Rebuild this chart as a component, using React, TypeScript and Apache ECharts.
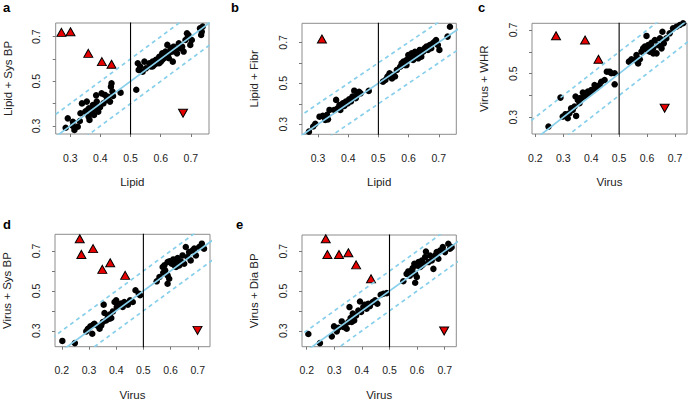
import React, { useEffect, useRef } from "react";
import * as echarts from "echarts";

// ---------- data ----------
const aPoints: number[][] = [
  [0.285, 0.292], [0.292, 0.334], [0.309, 0.3], [0.314, 0.282], [0.309, 0.319], [0.325, 0.297],
  [0.332, 0.322], [0.334, 0.357], [0.339, 0.401], [0.35, 0.364], [0.355, 0.409], [0.355, 0.369],
  [0.361, 0.342], [0.364, 0.327], [0.362, 0.379], [0.372, 0.361], [0.375, 0.394], [0.377, 0.375],
  [0.379, 0.349], [0.384, 0.387], [0.386, 0.437], [0.388, 0.409], [0.393, 0.364], [0.399, 0.384],
  [0.404, 0.446], [0.41, 0.401], [0.415, 0.439], [0.421, 0.416], [0.426, 0.431], [0.432, 0.409],
  [0.435, 0.476], [0.437, 0.491], [0.44, 0.454], [0.442, 0.434], [0.467, 0.449], [0.519, 0.462],
  [0.524, 0.581], [0.527, 0.551], [0.532, 0.566], [0.54, 0.543], [0.546, 0.588], [0.551, 0.558],
  [0.562, 0.581], [0.567, 0.566], [0.573, 0.588], [0.578, 0.573], [0.584, 0.596], [0.589, 0.581],
  [0.595, 0.61], [0.6, 0.588], [0.605, 0.625], [0.611, 0.603], [0.616, 0.633], [0.622, 0.663],
  [0.622, 0.61], [0.627, 0.625], [0.633, 0.648], [0.638, 0.633], [0.64, 0.588], [0.643, 0.655],
  [0.649, 0.64], [0.654, 0.625], [0.66, 0.67], [0.665, 0.648], [0.671, 0.655], [0.676, 0.633],
  [0.682, 0.685], [0.687, 0.715], [0.69, 0.7], [0.692, 0.707], [0.698, 0.663], [0.703, 0.685],
  [0.73, 0.737], [0.734, 0.707], [0.736, 0.722], [0.739, 0.745], [0.573, 0.566], [0.595, 0.581],
  [0.616, 0.61], [0.627, 0.603], [0.605, 0.596],
];
const aUp: number[][] = [[0.271, 0.719], [0.301, 0.722], [0.36, 0.625], [0.405, 0.588], [0.437, 0.576]];
const aDown: number[][] = [[0.674, 0.357]];

const bPoints: number[][] = [
  [0.27, 0.264], [0.284, 0.289], [0.291, 0.302], [0.305, 0.337], [0.316, 0.341], [0.324, 0.321],
  [0.333, 0.324], [0.33, 0.346], [0.338, 0.37], [0.36, 0.419], [0.365, 0.378], [0.371, 0.394],
  [0.376, 0.386], [0.382, 0.402], [0.387, 0.389], [0.392, 0.411], [0.398, 0.402], [0.403, 0.422],
  [0.409, 0.411], [0.414, 0.435], [0.42, 0.464], [0.425, 0.427], [0.43, 0.443], [0.436, 0.459],
  [0.441, 0.451], [0.468, 0.463], [0.374, 0.37], [0.354, 0.37],
  [0.515, 0.508], [0.523, 0.516], [0.53, 0.533], [0.537, 0.549], [0.545, 0.524], [0.55, 0.541],
  [0.555, 0.533], [0.561, 0.565], [0.572, 0.581], [0.577, 0.598], [0.583, 0.606], [0.588, 0.589],
  [0.593, 0.614], [0.599, 0.638], [0.604, 0.622], [0.61, 0.646], [0.615, 0.63], [0.621, 0.654],
  [0.626, 0.638], [0.632, 0.646], [0.637, 0.663], [0.642, 0.63], [0.648, 0.654], [0.653, 0.671],
  [0.659, 0.679], [0.664, 0.663], [0.67, 0.687], [0.675, 0.671], [0.68, 0.695], [0.686, 0.703],
  [0.691, 0.711], [0.697, 0.687], [0.702, 0.663], [0.729, 0.728], [0.737, 0.776], [0.615, 0.614],
  [0.593, 0.589], [0.632, 0.622],
];
const bUp: number[][] = [[0.313, 0.716]];
const bDown: number[][] = [];

const cPoints: number[][] = [
  [0.247, 0.257], [0.29, 0.39], [0.298, 0.303], [0.308, 0.314], [0.316, 0.295], [0.322, 0.318],
  [0.334, 0.334], [0.346, 0.306], [0.34, 0.349], [0.344, 0.395], [0.352, 0.379], [0.358, 0.364],
  [0.364, 0.387], [0.37, 0.413], [0.376, 0.395], [0.382, 0.402], [0.388, 0.418], [0.394, 0.41],
  [0.4, 0.425], [0.406, 0.422], [0.412, 0.448], [0.418, 0.433], [0.424, 0.44], [0.43, 0.448],
  [0.436, 0.463], [0.448, 0.471], [0.456, 0.509], [0.466, 0.509], [0.472, 0.502], [0.484, 0.502],
  [0.484, 0.451], [0.358, 0.387], [0.328, 0.341],
  [0.535, 0.555], [0.544, 0.566], [0.556, 0.563], [0.562, 0.585], [0.568, 0.547], [0.574, 0.566],
  [0.58, 0.601], [0.586, 0.616], [0.592, 0.624], [0.598, 0.673], [0.6, 0.608], [0.604, 0.631],
  [0.61, 0.601], [0.616, 0.642], [0.622, 0.616], [0.628, 0.654], [0.634, 0.593], [0.64, 0.631],
  [0.646, 0.662], [0.652, 0.616], [0.655, 0.692], [0.66, 0.639], [0.669, 0.662], [0.681, 0.685],
  [0.693, 0.708], [0.705, 0.715], [0.717, 0.723], [0.729, 0.731], [0.622, 0.593], [0.61, 0.624],
];
const cUp: number[][] = [[0.274, 0.674], [0.378, 0.654], [0.426, 0.566]];
const cDown: number[][] = [[0.663, 0.341]];

const dPoints: number[][] = [
  [0.202, 0.249], [0.248, 0.238], [0.29, 0.297], [0.296, 0.31], [0.305, 0.322], [0.312, 0.285],
  [0.315, 0.33], [0.32, 0.335], [0.333, 0.324], [0.345, 0.327], [0.351, 0.344], [0.354, 0.431],
  [0.357, 0.389], [0.363, 0.352], [0.37, 0.369], [0.376, 0.381], [0.382, 0.364], [0.388, 0.397],
  [0.394, 0.444], [0.4, 0.453], [0.402, 0.419], [0.41, 0.427], [0.418, 0.436], [0.424, 0.419],
  [0.43, 0.444], [0.443, 0.431], [0.451, 0.453], [0.461, 0.444], [0.471, 0.503], [0.483, 0.486],
  [0.488, 0.478], [0.339, 0.31], [0.376, 0.361],
  [0.549, 0.548], [0.559, 0.57], [0.571, 0.62], [0.573, 0.591], [0.58, 0.603], [0.589, 0.536],
  [0.589, 0.578], [0.595, 0.561], [0.589, 0.645], [0.596, 0.648], [0.604, 0.636], [0.61, 0.658],
  [0.615, 0.628], [0.62, 0.645], [0.626, 0.665], [0.632, 0.628], [0.638, 0.648], [0.644, 0.678],
  [0.65, 0.636], [0.656, 0.72], [0.662, 0.67], [0.668, 0.695], [0.674, 0.653], [0.68, 0.703],
  [0.687, 0.712], [0.693, 0.678], [0.705, 0.72], [0.715, 0.737], [0.723, 0.712], [0.577, 0.628],
  [0.62, 0.62],
];
const dUp: number[][] = [[0.266, 0.762], [0.272, 0.683], [0.315, 0.712], [0.349, 0.608], [0.378, 0.641], [0.433, 0.578]];
const dDown: number[][] = [[0.699, 0.302]];

const ePoints: number[][] = [
  [0.206, 0.284], [0.248, 0.238], [0.291, 0.272], [0.299, 0.322], [0.309, 0.297], [0.315, 0.315],
  [0.327, 0.347], [0.339, 0.327], [0.345, 0.31], [0.351, 0.344], [0.355, 0.419], [0.359, 0.364],
  [0.367, 0.386], [0.372, 0.352], [0.379, 0.377], [0.387, 0.402], [0.393, 0.447], [0.397, 0.394],
  [0.405, 0.419], [0.411, 0.431], [0.417, 0.411], [0.423, 0.436], [0.429, 0.424], [0.439, 0.444],
  [0.448, 0.453], [0.456, 0.436], [0.468, 0.481], [0.478, 0.486], [0.49, 0.489], [0.363, 0.344],
  [0.333, 0.319],
  [0.55, 0.549], [0.562, 0.586], [0.568, 0.598], [0.574, 0.577], [0.584, 0.615], [0.593, 0.541],
  [0.593, 0.586], [0.599, 0.57], [0.59, 0.636], [0.599, 0.628], [0.605, 0.645], [0.611, 0.62],
  [0.617, 0.653], [0.623, 0.636], [0.629, 0.67], [0.632, 0.698], [0.641, 0.645], [0.647, 0.678],
  [0.653, 0.653], [0.659, 0.611], [0.665, 0.678], [0.671, 0.695], [0.677, 0.662], [0.683, 0.703],
  [0.693, 0.72], [0.701, 0.695], [0.713, 0.737], [0.719, 0.712], [0.725, 0.72], [0.617, 0.628],
  [0.58, 0.603],
];
const eUp: number[][] = [[0.269, 0.762], [0.275, 0.683], [0.317, 0.683], [0.351, 0.692], [0.379, 0.631], [0.433, 0.561]];
const eDown: number[][] = [[0.698, 0.299]];

const lipidTicks = [0.3, 0.4, 0.5, 0.6, 0.7];
const virusTicks = [0.2, 0.3, 0.4, 0.5, 0.6, 0.7];
const yTicks = [0.3, 0.4, 0.5, 0.6, 0.7];
const yLabels = [0.3, 0.5, 0.7];
const bandOffset = 0.1;
const threshold = 0.5;

const panels = [
  { tag: "a", xName: "Lipid", yName: "Lipid + Sys BP", pts: aPoints, up: aUp, down: aDown,
    xr: [0.252, 0.76], yr: [0.264, 0.761], xt: lipidTicks,
    box: { left: 55.7, top: 23, width: 153.3, height: 111 }, lab: [3, 1] },
  { tag: "b", xName: "Lipid", yName: "Lipid + Fibr", pts: bPoints, up: bUp, down: bDown,
    xr: [0.247, 0.758], yr: [0.251, 0.793], xt: lipidTicks,
    box: { left: 302, top: 23.3, width: 154.3, height: 111 }, lab: [231, 1] },
  { tag: "c", xName: "Virus", yName: "Virus + WHR", pts: cPoints, up: cUp, down: cDown,
    xr: [0.188, 0.743], yr: [0.223, 0.731], xt: virusTicks,
    box: { left: 532, top: 23.3, width: 155, height: 110.7 }, lab: [478, 1] },
  { tag: "d", xName: "Virus", yName: "Virus + Sys BP", pts: dPoints, up: dUp, down: dDown,
    xr: [0.175, 0.745], yr: [0.22, 0.784], xt: virusTicks,
    box: { left: 54.3, top: 234.3, width: 155.7, height: 112.4 }, lab: [3, 218] },
  { tag: "e", xName: "Virus", yName: "Virus + Dia BP", pts: ePoints, up: eUp, down: eDown,
    xr: [0.183, 0.742], yr: [0.22, 0.781], xt: virusTicks,
    box: { left: 302, top: 235, width: 154.3, height: 111.7 }, lab: [236, 218] },
];

const FONT = "Liberation Sans";
const BLUE = "#87cfeb";

function buildOption() {
  const grid: any[] = [];
  const xAxis: any[] = [];
  const yAxis: any[] = [];
  const series: any[] = [];
  const graphic: any[] = [];
  panels.forEach((p, i) => {
    grid.push({ ...p.box, show: true, borderColor: "#8c8c8c", borderWidth: 1, backgroundColor: "transparent" });
    xAxis.push({
      gridIndex: i, type: "value", min: p.xr[0], max: p.xr[1],
      name: p.xName, nameLocation: "middle", nameGap: 42,
      nameTextStyle: { fontFamily: FONT, fontSize: 11.5, color: "#222" },
      axisLine: { show: false }, splitLine: { show: false },
      axisTick: { show: true, inside: false, length: 3, customValues: p.xt, lineStyle: { color: "#777" } },
      axisLabel: { customValues: p.xt, margin: 18, fontFamily: FONT, fontSize: 10.5, color: "#222",
        formatter: (v: number) => v.toFixed(1) },
    });
    yAxis.push({
      gridIndex: i, type: "value", min: p.yr[0], max: p.yr[1],
      name: p.yName, nameLocation: "middle", nameGap: 42, nameRotate: 90,
      nameTextStyle: { fontFamily: FONT, fontSize: 11.5, color: "#222" },
      axisLine: { show: false }, splitLine: { show: false },
      axisTick: { show: true, inside: false, length: 3, customValues: yTicks, lineStyle: { color: "#777" } },
      axisLabel: { customValues: yLabels, rotate: 90, margin: 14, fontFamily: FONT, fontSize: 10.5, color: "#222",
        formatter: (v: number) => v.toFixed(1) },
    });
    const lo = Math.min(p.xr[0], p.yr[0]) - 0.3;
    const hi = Math.max(p.xr[1], p.yr[1]) + 0.3;
    series.push({
      type: "scatter", xAxisIndex: i, yAxisIndex: i, data: p.pts, symbol: "circle", symbolSize: 6.5,
      itemStyle: { color: "#000", opacity: 1 }, silent: true,
    });
    [0, bandOffset, -bandOffset].forEach((off) => {
      series.push({
        type: "line", xAxisIndex: i, yAxisIndex: i, clip: true, silent: true, symbol: "none",
        data: [[lo, lo + off], [hi, hi + off]],
        lineStyle: { color: BLUE, width: 1.7, opacity: 1, type: off === 0 ? "solid" : [4, 3.5] },
      });
    });
    series.push({
      type: "line", xAxisIndex: i, yAxisIndex: i, clip: true, silent: true, symbol: "none",
      data: [[threshold, p.yr[0] - 1], [threshold, p.yr[1] + 1]],
      lineStyle: { color: "#000", width: 1.1, opacity: 1 },
    });
    series.push({
      type: "scatter", xAxisIndex: i, yAxisIndex: i, data: p.up, symbol: "triangle", symbolSize: [9, 8],
      itemStyle: { color: "#e60000", borderColor: "#000", borderWidth: 1, opacity: 1 }, silent: true,
    });
    series.push({
      type: "scatter", xAxisIndex: i, yAxisIndex: i, data: p.down, symbol: "triangle", symbolSize: [9, 8],
      symbolRotate: 180,
      itemStyle: { color: "#e60000", borderColor: "#000", borderWidth: 1, opacity: 1 }, silent: true,
    });
    graphic.push({
      type: "text", x: p.lab[0], y: p.lab[1],
      style: { text: p.tag, font: `bold 13px "${FONT}"`, fill: "#000" },
    });
  });
  return { animation: false, backgroundColor: "#fff", grid, xAxis, yAxis, series, graphic };
}

export default function App() {
  const ref = useRef<HTMLDivElement>(null);
  useEffect(() => {
    if (!ref.current) return;
    const chart = echarts.init(ref.current, null, { renderer: "svg" });
    chart.setOption(buildOption() as any);
    return () => chart.dispose();
  }, []);
  return (
    <div
      ref={ref}
      style={{ position: "absolute", left: 0, top: 0, width: 688, height: 403, background: "#fff" }}
    />
  );
}
